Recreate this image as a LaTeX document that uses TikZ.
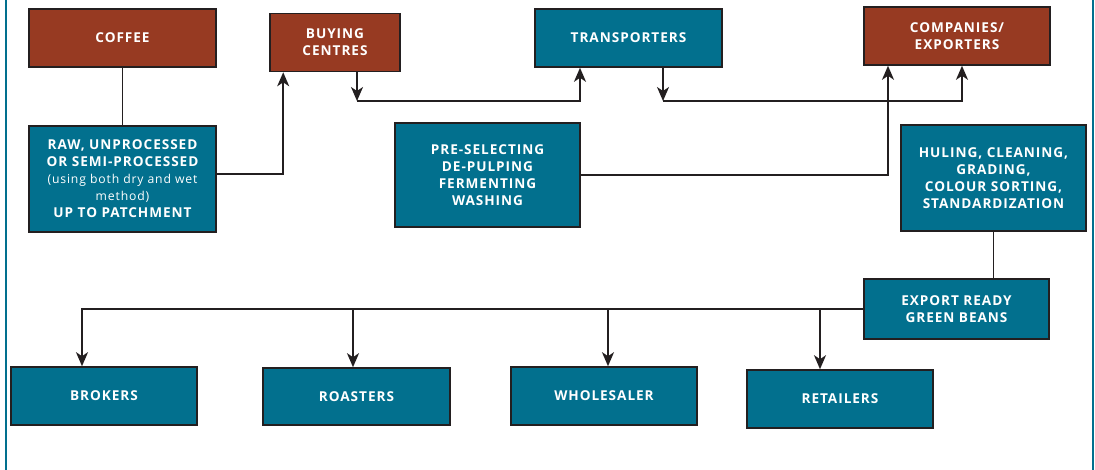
\documentclass[tikz,border=0pt]{standalone}
\usepackage{fontspec}
\setsansfont{Open Sans}[LetterSpace=7]
\usepackage{tikz}
\usetikzlibrary{arrows.meta, positioning}
\definecolor{brownbox}{RGB}{151, 58,  34}
\definecolor{tealbox} {RGB}{  2, 112, 142}
\definecolor{linedark}{RGB}{ 35,  31,  32}

\tikzset{
  box/.style={draw=linedark, line width=1.6pt, text=white, align=center,
    inner sep=0pt, font=\sffamily\bfseries\fontsize{13.6}{17}\selectfont},
  brownnode/.style={box, fill=brownbox},
  tealnode/.style={box, fill=tealbox},
  link/.style={draw=linedark, line width=1.7pt},
  arrow/.style={link, -{Stealth[length=14pt, width=12pt, inset=4pt]}}
}
\newcommand{\smalltxt}[1]{{\mdseries\fontsize{12.2}{13}\selectfont #1}}

\begin{document}
\begin{tikzpicture}[x=1pt, y=-1pt]
  \useasboundingbox (0,0) rectangle (1095,470);
  % side rules of the page
  \draw[tealbox, line width=1.5pt] (6,0) -- (6,470);
  \draw[tealbox, line width=1.5pt] (1093,0) -- (1093,470);

  % Top row
  \node[brownnode, minimum width=187pt, minimum height=58pt] (coffee) at (122.5,38) {COFFEE};
  \node[brownnode, minimum width=130pt, minimum height=58pt] (buying) at (335,42.5) {BUYING\\CENTRES};
  \node[tealnode,  minimum width=187pt, minimum height=58pt] (transp) at (628.5,38) {TRANSPORTERS};
  \node[brownnode, minimum width=186pt, minimum height=58pt] (comp)   at (957,36) {COMPANIES/\\EXPORTERS};

  % Processing steps
  \node[tealnode, minimum width=187pt, minimum height=106pt] (raw) at (122.5,179)
    {RAW, UNPROCESSED\\OR SEMI-PROCESSED\\\smalltxt{(using both dry and wet}\\\smalltxt{method)}\\UP TO PATCHMENT};
  \node[tealnode, minimum width=185pt, minimum height=104pt] (pre) at (487.5,175)
    {PRE-SELECTING\\DE-PULPING\\FERMENTING\\WASHING};
  \node[tealnode, minimum width=185pt, minimum height=106pt] (huling) at (993.5,178)
    {HULING, CLEANING,\\GRADING,\\COLOUR SORTING,\\STANDARDIZATION};
  \node[tealnode, minimum width=185pt, minimum height=60pt] (export) at (956.5,309)
    {EXPORT READY\\GREEN BEANS};

  % Buyers
  \node[tealnode, minimum width=186pt, minimum height=58pt] (brokers)    at (104,396)   {BROKERS};
  \node[tealnode, minimum width=187pt, minimum height=57pt] (roasters)   at (356.5,396.5) {ROASTERS};
  \node[tealnode, minimum width=186pt, minimum height=58pt] (wholesaler) at (604,396)   {WHOLESALER};
  \node[tealnode, minimum width=186pt, minimum height=58pt] (retailers)  at (840,399)   {RETAILERS};

  % junctions under the top row
  \coordinate (jb) at (357,101);
  \coordinate (jt) at (663,101);

  % Connectors
  \draw[link]  (coffee.south) -- (raw.north);
  \draw[arrow] ([yshift=5pt]raw.east) -| ([xshift=14pt]buying.south west);
  \draw[arrow] ([xshift=22pt]buying.south) -- (jb);
  \draw[arrow] (jb) -| ([xshift=-48.5pt]transp.south);
  \draw[arrow] ([xshift=34.5pt]transp.south) -- (jt);
  \draw[arrow] (jt) -| ([xshift=5pt]comp.south);
  \draw[arrow] (pre.east) -| ([xshift=-69pt]comp.south);
  \draw[link]  (huling.south) -- (huling.south |- export.north);

  % Distribution line
  \draw[arrow] (export.west) -| ([xshift=-22pt]brokers.north);
  \draw[arrow] (export.west) -| ([xshift=-3.5pt]roasters.north);
  \draw[arrow] (export.west) -| ([xshift=4pt]wholesaler.north);
  \draw[arrow] (export.west) -| ([xshift=-20pt]retailers.north);
\end{tikzpicture}
\end{document}
